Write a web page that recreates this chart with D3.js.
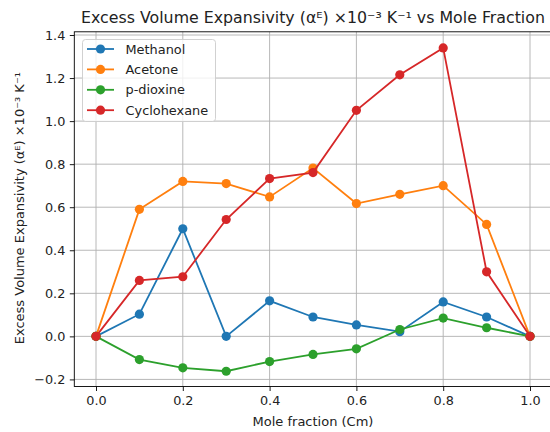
<!DOCTYPE html>
<html>
<head>
<meta charset="utf-8">
<script src="https://cdn.jsdelivr.net/npm/d3@7"></script>
<style>
  body { margin: 0; background: #fff; overflow: hidden; }
  svg { display: block; font-family: "DejaVu Sans", sans-serif; }
</style>
</head>
<body>
<div class="canvas"></div>
<script>
// data
const moleFraction = [0.0, 0.1, 0.2, 0.3, 0.4, 0.5, 0.6, 0.7, 0.8, 0.9, 1.0]
const methanol    = [0, 0.103, 0.50, 0.0, 0.165, 0.09, 0.053, 0.022, 0.16, 0.09, 0]
const acetone     = [0, 0.59, 0.72, 0.71, 0.648, 0.782, 0.617, 0.66, 0.70, 0.52, 0]
const pDioxine    = [0, -0.108, -0.146, -0.162, -0.117, -0.084, -0.058, 0.032, 0.085, 0.04, 0]
const cyclohexane = [0, 0.26, 0.277, 0.543, 0.733, 0.761, 1.05, 1.215, 1.34, 0.30, 0]
const seriesNames = ['Methanol', 'Acetone', 'p-dioxine', 'Cyclohexane']
const seriesColours = ['#1f77b4', '#ff7f0e', '#2ca02c', '#d62728']
const xTicks = [0, 0.2, 0.4, 0.6, 0.8, 1.0]
const yTicks = [-0.2, 0, 0.2, 0.4, 0.6, 0.8, 1.0, 1.2, 1.4]

const allSeries = [methanol, acetone, pDioxine, cyclohexane]

const width = 550, height = 432
const plot = { left: 74.3, right: 551.7, top: 31.8, bottom: 386.5 }

const svg = d3.select('.canvas')
  .append('svg')
  .attr('width', width)
  .attr('height', height)

const x = d3.scaleLinear().domain([-0.05, 1.05]).range([plot.left, plot.right])
const y = d3.scaleLinear().domain([-0.2329, 1.4149]).range([plot.bottom, plot.top])

// grid
const grid = svg.append('g')
grid.selectAll('.gx')
  .data(xTicks)
  .enter()
  .append('line')
  .attr('x1', d => x(d)).attr('x2', d => x(d))
  .attr('y1', plot.top).attr('y2', plot.bottom)
  .attr('stroke', '#b0b0b0').attr('stroke-width', 0.9)
grid.selectAll('.gy')
  .data(yTicks)
  .enter()
  .append('line')
  .attr('y1', d => y(d)).attr('y2', d => y(d))
  .attr('x1', plot.left).attr('x2', plot.right)
  .attr('stroke', '#b0b0b0').attr('stroke-width', 0.9)

// axes
const fmt = d => d < 0 ? '\u2212' + Math.abs(d).toFixed(1) : d.toFixed(1)
const xAxis = svg.append('g')
  .attr('transform', `translate(0, ${plot.bottom})`)
  .call(d3.axisBottom(x).tickValues(xTicks).tickFormat(fmt).tickSizeOuter(0).tickSize(4.5).tickPadding(4.5))
const yAxis = svg.append('g')
  .attr('transform', `translate(${plot.left}, 0)`)
  .call(d3.axisLeft(y).tickValues(yTicks).tickFormat(fmt).tickSizeOuter(0).tickSize(4.5).tickPadding(4.5))
;[xAxis, yAxis].forEach(a => {
  a.select('.domain').remove()
  a.selectAll('text').attr('font-family', '"DejaVu Sans", sans-serif').attr('font-size', 12.8).attr('fill', '#222')
  a.selectAll('line').attr('stroke', '#000').attr('stroke-width', 0.9)
})

// spines
svg.append('rect')
  .attr('x', plot.left).attr('y', plot.top)
  .attr('width', plot.right - plot.left).attr('height', plot.bottom - plot.top)
  .attr('fill', 'none').attr('stroke', '#000').attr('stroke-width', 0.9)

// lines + markers
const line = d3.line()
  .x((d, i) => x(moleFraction[i]))
  .y(d => y(d))

const series = svg.selectAll('.series')
  .data(allSeries)
  .enter()
  .append('g')

series.append('path')
  .attr('d', d => line(d))
  .attr('fill', 'none')
  .attr('stroke', (d, i) => seriesColours[i])
  .attr('stroke-width', 1.8)

series.each(function (d, i) {
  d3.select(this).selectAll('circle')
    .data(d)
    .enter()
    .append('circle')
    .attr('cx', (v, j) => x(moleFraction[j]))
    .attr('cy', v => y(v))
    .attr('r', 4.6)
    .attr('fill', seriesColours[i])
})

// legend
const legend = svg.append('g').attr('transform', 'translate(82.5, 39.5)')
legend.append('rect')
  .attr('width', 133).attr('height', 82)
  .attr('rx', 3)
  .attr('fill', 'rgba(255,255,255,0.8)')
  .attr('stroke', '#cccccc').attr('stroke-width', 0.9)
const items = legend.selectAll('.item')
  .data(seriesNames)
  .enter()
  .append('g')
  .attr('transform', (d, i) => `translate(0, ${9.5 + i * 20.4})`)
items.append('line')
  .attr('x1', 4.5).attr('x2', 31.5)
  .attr('stroke', (d, i) => seriesColours[i]).attr('stroke-width', 1.8)
items.append('circle')
  .attr('cx', 18).attr('r', 4.6)
  .attr('fill', (d, i) => seriesColours[i])
items.append('text')
  .attr('x', 43).attr('dy', '0.35em')
  .attr('font-size', 12.9)
  .attr('fill', '#222')
  .text(d => d)

// title + labels
svg.append('text')
  .attr('x', 313).attr('y', 22.5)
  .attr('text-anchor', 'middle')
  .attr('font-size', 15.8)
  .attr('fill', '#222')
  .text('Excess Volume Expansivity (\u03b1\u1d31) \u00d710\u207b\u00b3 K\u207b\u00b9 vs Mole Fraction')

svg.append('text')
  .attr('x', 313).attr('y', 426)
  .attr('text-anchor', 'middle')
  .attr('font-size', 13)
  .attr('fill', '#222')
  .text('Mole fraction (Cm)')

svg.append('text')
  .attr('transform', `translate(24, ${(plot.top + plot.bottom) / 2 - 1}) rotate(-90)`)
  .attr('text-anchor', 'middle')
  .attr('font-size', 13)
  .attr('fill', '#222')
  .text('Excess Volume Expansivity (\u03b1\u1d31) \u00d710\u207b\u00b3 K\u207b\u00b9')
</script>
</body>
</html>
